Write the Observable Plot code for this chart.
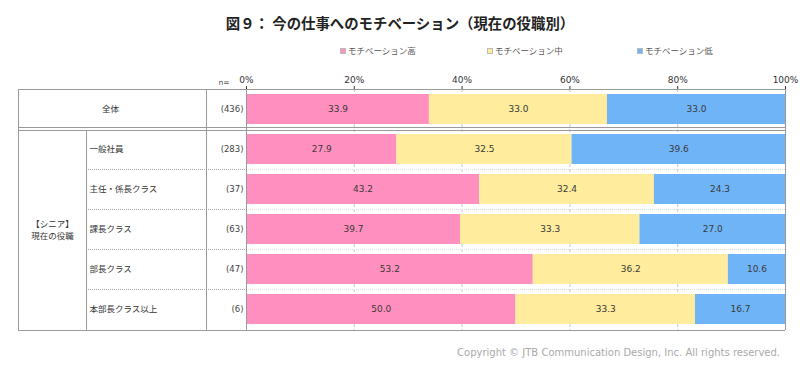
<!DOCTYPE html>
<html>
<head>
<meta charset="utf-8">
<script src="https://cdn.jsdelivr.net/npm/d3@7"></script>
<script src="https://cdn.jsdelivr.net/npm/@observablehq/plot@0.6"></script>
<style>
  body { margin: 0; background: #fff; }
  #wrap { position: relative; width: 800px; height: 373px; font-family: "Noto Sans CJK JP", "Noto Sans", sans-serif; }
  #title { position: absolute; left: 0; width: 800px; top: 12px; text-align: center; font-size: 14.4px; font-weight: bold; color: #222; }
  .leg { position: absolute; top: 44px; font-size: 8.5px; color: #555; white-space: nowrap; }
  .leg i { display: inline-block; width: 6px; height: 6px; margin-right: 2px; vertical-align: 0px; border: 1px solid #bbb; box-sizing: border-box; }
  #copy { position: absolute; right: 20px; top: 347px; font-family: "DejaVu Sans", sans-serif; font-size: 10px; color: #aaa; white-space: nowrap; }
  #chart { position: absolute; left: 0; top: 0; }
</style>
</head>
<body>
<div id="wrap">
  <div id="chart"></div>
  <div id="title">図９： 今の仕事へのモチベーション（現在の役職別）</div>
  <div id="legend"></div>
  <div id="copy">Copyright © JTB Communication Design, Inc. All rights reserved.</div>
</div>
<script>
const categories = ["全体", "一般社員", "主任・係長クラス", "課長クラス", "部長クラス", "本部長クラス以上"];
const sampleSizes = [436, 283, 37, 63, 47, 6];
const series = ["モチベーション高", "モチベーション中", "モチベーション低"];
const highValues = [33.9, 27.9, 43.2, 39.7, 53.2, 50.0];
const midValues = [33.0, 32.5, 32.4, 33.3, 36.2, 33.3];
const lowValues = [33.0, 39.6, 24.3, 27.0, 10.6, 16.7];
const tickValues = [0, 20, 40, 60, 80, 100];
const groupLabel = "【シニア】\n現在の役職";
const colors = ["#ff8fbf", "#ffec9c", "#6fb4f7"];

const seriesValues = [highValues, midValues, lowValues];
const data = categories.flatMap((c, i) => series.map((s, j) => ({category: c, series: s, value: seriesValues[j][i]})));

const W = 800, H = 373, mTop = 89, mBottom = 43, mLeft = 246, mRight = 15;
const tableLeft = 18, groupRight = 86, catRight = 206;

const plot = Plot.plot({
  width: W, height: H,
  marginTop: mTop, marginBottom: mBottom, marginLeft: mLeft, marginRight: mRight,
  style: {fontFamily: '"DejaVu Sans", "Noto Sans CJK JP", sans-serif', fontSize: "9px", color: "#333", background: "white", overflow: "visible"},
  x: {domain: [0, 1], axis: "top", ticks: tickValues.map(v => v / 100), tickFormat: d => Math.round(d * 100) + "%", tickSize: 4, tickPadding: 3, label: null},
  y: {domain: categories, axis: null, paddingInner: 0.24, paddingOuter: 0.13},
  color: {domain: series, range: colors},
  marks: [
    Plot.ruleX(tickValues.slice(1, -1), {x: d => d / 100, stroke: "#c8c8c8", strokeDasharray: "3,2"}),
    Plot.barX(data, Plot.stackX({offset: "normalize", x: "value", y: "category", fill: "series", z: "series"})),
    Plot.text(data, Plot.stackX({offset: "normalize", x: "value", y: "category", z: "series", text: d => d.value.toFixed(1), fill: "#3a3a3a", fontSize: 9})),
    Plot.text(categories.slice(0, 1), {y: d => d, text: d => d, frameAnchor: "left", dx: -(mLeft - 110), textAnchor: "middle", fontFamily: '"Noto Sans CJK JP", sans-serif', fontSize: 8.5, fill: "#333"}),
    Plot.text(categories.slice(1), {y: d => d, text: d => d, frameAnchor: "left", dx: -(mLeft - 89), textAnchor: "start", fontFamily: '"Noto Sans CJK JP", sans-serif', fontSize: 8.5, fill: "#333"}),
    Plot.text(categories, {y: d => d, text: (d, i) => "(" + sampleSizes[i] + ")", frameAnchor: "left", dx: -3, textAnchor: "end", fontSize: 8.5, fill: "#444"}),
    Plot.text([groupLabel], {y: () => categories[3], text: d => d, frameAnchor: "left", dx: -(mLeft - 52), textAnchor: "middle", lineHeight: 1.35, fontFamily: '"Noto Sans CJK JP", sans-serif', fontSize: 8.5, fill: "#333"})
  ]
});

document.getElementById("chart").appendChild(plot);

// table lines, positioned with the plot's own y scale
const ys = plot.scale("y");
const bw = ys.bandwidth;
const bounds = [mTop];
for (let k = 1; k < categories.length; k++) {
  const prevEnd = ys.apply(categories[k - 1]) + bw;
  const nextStart = ys.apply(categories[k]);
  bounds.push((prevEnd + nextStart) / 2);
}
const bottom = H - mBottom, right = W - mRight;
const svg = d3.select(plot);
const g = svg.append("g").attr("fill", "none").attr("shape-rendering", "crispEdges");
const line = (x1, y1, x2, y2, stroke, dash, sw) => g.append("line").attr("x1", x1).attr("y1", y1).attr("x2", x2).attr("y2", y2)
  .attr("stroke", stroke).attr("stroke-width", sw || 1).attr("stroke-dasharray", dash || null);
const frameColor = "#9a9a9a";
line(tableLeft, mTop, right, mTop, frameColor);
line(tableLeft, bottom, right, bottom, frameColor);
line(tableLeft, bounds[1] - 1.5, right, bounds[1] - 1.5, frameColor);
line(tableLeft, bounds[1] + 1.5, right, bounds[1] + 1.5, frameColor);
for (let k = 2; k < bounds.length; k++) {
  line(groupRight, bounds[k], mLeft, bounds[k], "#aaa", "1,1");
  line(mLeft, bounds[k], right, bounds[k], "#dcdcdc", "1,1");
}
line(tableLeft, mTop, tableLeft, bottom, frameColor);
line(groupRight, bounds[1] + 1.5, groupRight, bottom, frameColor);
line(catRight, mTop, catRight, bottom, frameColor);
line(mLeft, mTop, mLeft, bottom, frameColor);
line(right, mTop, right, bottom, frameColor);

// "n=" header above the sample-size column
svg.append("text").attr("x", mLeft - 22).attr("y", mTop - 4).attr("text-anchor", "middle")
  .attr("font-size", 7.5).attr("fill", "#555").text("n=");

// legend
const legendX = [340, 487, 637];
const legend = document.getElementById("legend");
series.forEach((s, i) => {
  const d = document.createElement("div");
  d.className = "leg";
  d.style.left = legendX[i] + "px";
  d.innerHTML = `<i style="background:${colors[i]}"></i>${s}`;
  legend.appendChild(d);
});
</script>
</body>
</html>
